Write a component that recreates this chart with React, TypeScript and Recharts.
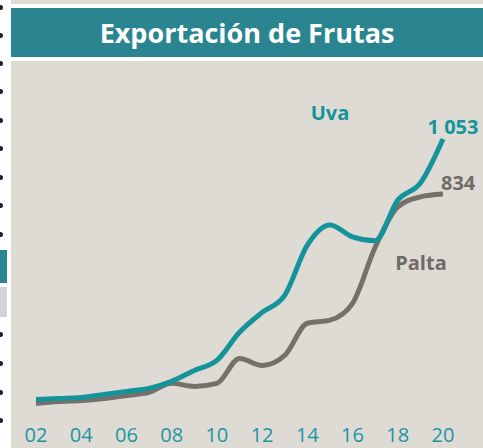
import { LineChart, Line, XAxis, YAxis, LabelList } from 'recharts'

const years = [2002, 2003, 2004, 2005, 2006, 2007, 2008, 2009, 2010, 2011, 2012, 2013, 2014, 2015, 2016, 2017, 2018, 2019, 2020]
const uva = [18, 22, 26, 38, 50, 62, 90, 133, 173, 285, 364, 432, 631, 711, 664, 649, 810, 878, 1053]
const palta = [2, 10, 14, 22, 34, 46, 82, 70, 82, 181, 153, 193, 321, 333, 400, 623, 783, 823, 834]
const xTicks = [2002, 2004, 2006, 2008, 2010, 2012, 2014, 2016, 2018, 2020]

const TEAL = '#14939b'
const GRAY = '#767069'
const BG = '#dedbd5'
const FONT = '"Open Sans", sans-serif'

const data = years.map((year, i) => ({ year, uva: uva[i], palta: palta[i] }))

const fmt = (v: number) => String(v).replace(/\B(?=(\d{3})+(?!\d))/g, ' ')

// value label only on the last point of a series
const endLabel = (color: string, dx: number, dy: number, anchor: string) => (props: any) => {
  const { x, y, value, index } = props
  if (index !== years.length - 1) return null
  return (
    <text x={x + dx} y={y + dy} fill={color} fontSize={20} fontWeight={700} fontFamily={FONT} textAnchor={anchor}>
      {fmt(value)}
    </text>
  )
}

// left edge: bits of the neighbouring slide
const dots = [7, 35, 63, 91, 120, 148, 177, 205, 234, 302, 334, 363, 392, 420]

export default function App() {
  return (
    <div style={{ position: 'absolute', left: 0, top: 0, width: 483, height: 448, background: '#fff', overflow: 'hidden' }}>
      <div style={{ position: 'absolute', left: 11, top: 0, width: 472, height: 4, background: BG }} />
      <div
        style={{
          position: 'absolute', left: 11, top: 8, width: 472, height: 49, background: '#2a8590',
          color: '#fff', fontFamily: FONT, fontWeight: 700, fontSize: 27, lineHeight: '49px', textAlign: 'center',
        }}
      >
        Exportación de Frutas
      </div>
      {dots.map(d => (
        <div key={d} style={{ position: 'absolute', left: -2, top: d - 2, width: 5, height: 5, borderRadius: 3, background: '#222' }} />
      ))}
      <div style={{ position: 'absolute', left: 0, top: 250, width: 7, height: 33, background: '#2a8590' }} />
      <div style={{ position: 'absolute', left: 0, top: 287, width: 7, height: 30, background: '#d4d4d4' }} />
      <div style={{ position: 'absolute', left: 11, top: 61, width: 472, height: 387, background: BG }}>
        <LineChart width={472} height={387} data={data} margin={{ top: 41, right: 40, bottom: 0, left: 25 }}>
          <XAxis
            dataKey="year"
            type="number"
            domain={[2002, 2020]}
            ticks={xTicks}
            tickFormatter={(v: number) => String(v).slice(2)}
            axisLine={false}
            tickLine={false}
            tickMargin={18}
            height={44}
            interval={0}
            tick={{ fill: '#1b96a0', fontSize: 20, fontFamily: FONT }}
          />
          <YAxis hide domain={[0, 1200]} />
          <Line
            dataKey="palta"
            type="monotone"
            stroke={GRAY}
            strokeWidth={5}
            dot={false}
            isAnimationActive={false}
          >
            <LabelList dataKey="palta" content={endLabel('#6f6b66', -2, -4, 'start')} />
          </Line>
          <Line
            dataKey="uva"
            type="monotone"
            stroke={TEAL}
            strokeWidth={5}
            dot={false}
            isAnimationActive={false}
          >
            <LabelList dataKey="uva" content={endLabel(TEAL, 10, -5, 'middle')} />
          </Line>
          <text x={319} y={59} fill={TEAL} fontSize={20} fontWeight={700} fontFamily={FONT} textAnchor="middle">Uva</text>
          <text x={410} y={209} fill="#6f6b66" fontSize={20} fontWeight={700} fontFamily={FONT} textAnchor="middle">Palta</text>
        </LineChart>
      </div>
    </div>
  )
}
